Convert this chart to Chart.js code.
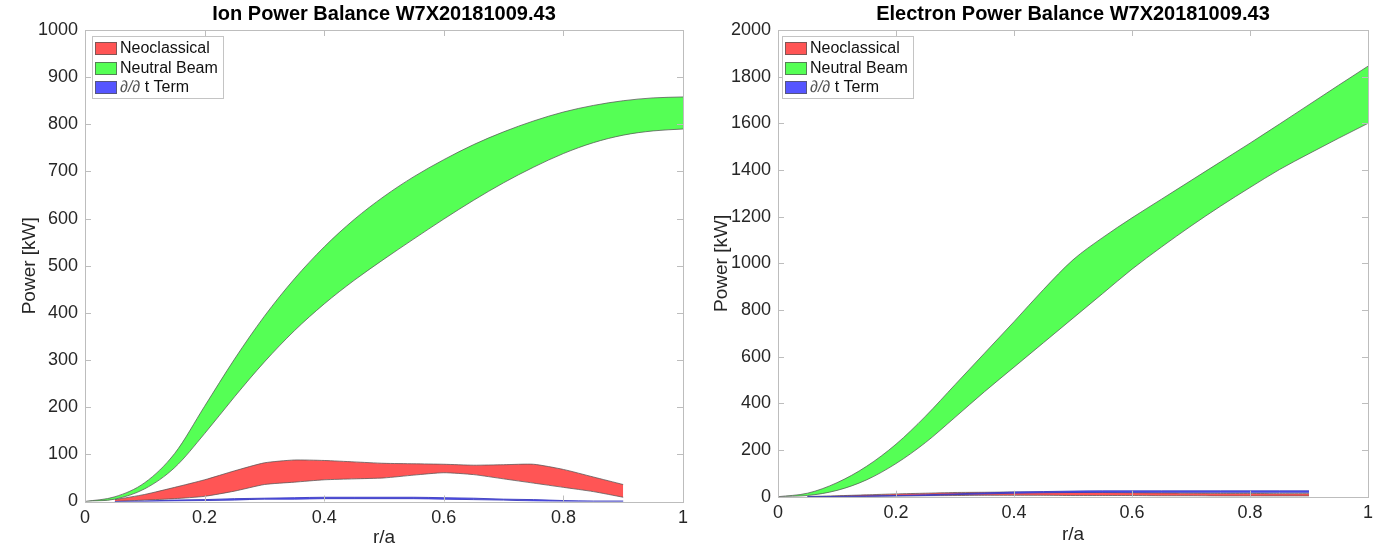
<!DOCTYPE html>
<html>
<head>
<meta charset="utf-8">
<script src="https://cdn.jsdelivr.net/npm/chart.js@4.4.1/dist/chart.umd.min.js"></script>
<style>
    html, body { margin: 0; padding: 0; background: #fff; }
    #wrap { position: relative; width: 1385px; height: 549px; }
    .pane { position: absolute; top: 0; height: 549px; }
</style>
</head>
<body>
<div id="wrap">
    <div class="pane" style="left:0;width:695px"><canvas id="ionChart" width="695" height="549"></canvas></div>
    <div class="pane" style="left:695px;width:690px"><canvas id="elecChart" width="690" height="549"></canvas></div>
</div>
<script>
// r/a grids
const rBeam = [0, 0.05, 0.1, 0.15, 0.2, 0.25, 0.3, 0.35, 0.4, 0.45, 0.5, 0.55, 0.6, 0.65, 0.7, 0.75, 0.8, 0.85, 0.9, 0.95, 1.0];
const rInner = [0.05, 0.1, 0.15, 0.2, 0.25, 0.3, 0.35, 0.4, 0.45, 0.5, 0.55, 0.6, 0.65, 0.7, 0.75, 0.8, 0.85, 0.9];

// Ion power balance [kW]
const ionBeamUpper = [0, 10, 40, 102, 202, 302, 393, 472, 540, 598, 647, 689, 725, 757, 784, 807, 826, 840, 850, 856, 858];
const ionBeamLower = [0, 5, 27, 72, 144, 222, 296, 362, 419, 469, 514, 557, 599, 639, 676, 709, 738, 761, 777, 786, 790];
const ionNeoUpper = [4, 15, 30, 46, 65, 82, 88, 87, 84, 81, 80, 79, 77, 78, 79, 68, 52, 36];
const ionNeoLower = [0, 3, 6, 11, 22, 36, 41, 46, 48, 50, 56, 61, 57, 48, 39, 30, 21, 9];
const ionDtUpper = [0, 1, 3, 4, 6, 7, 8, 9, 9, 9, 9, 8, 7, 5, 4, 2, 1, 1];
const ionDtLower = [0, 0, 1, 2, 3, 5, 5, 6, 6, 6, 6, 5, 4, 3, 1, 0, 0, 0];

// Electron power balance [kW]
const elecBeamUpper = [0, 15, 60, 130, 225, 345, 480, 615, 750, 888, 1015, 1110, 1195, 1275, 1355, 1435, 1515, 1597, 1680, 1763, 1845];
const elecBeamLower = [0, 5, 27, 72, 142, 232, 340, 450, 555, 660, 765, 870, 975, 1070, 1160, 1245, 1325, 1402, 1470, 1536, 1600];
const elecNeoUpper = [1, 4, 8, 12, 15, 18, 19, 20, 19, 19, 18, 17, 16, 15, 14, 14, 13, 13];
const elecNeoLower = [0, 1, 2, 3, 4, 5, 6, 6, 6, 5, 5, 5, 4, 4, 3, 3, 3, 3];
const elecDtUpper = [0, 1, 3, 5, 8, 12, 16, 20, 22, 24, 25, 25, 25, 25, 25, 25, 25, 25];
const elecDtLower = [0, 0, 1, 3, 5, 9, 12, 15, 17, 18, 19, 19, 19, 19, 19, 19, 19, 19];

// Legend
const legendLabels = ['Neoclassical', 'Neutral Beam', 't Term'];
const legendColors = ['#ff5555', '#55ff55', '#5555ff'];

const EDGE = 'rgba(85,85,85,0.75)';
const FONT = '"Liberation Sans", Arial, Helvetica, sans-serif';

function pts(xs, ys) {
    return xs.map((x, i) => ({ x: x, y: ys[i] }));
}

// lower edge then upper edge filled down to it
function band(xs, lo, hi, color, edge, order, lowerIndex, smooth) {
    const common = { borderColor: edge, borderWidth: 1, pointRadius: 0, order: order };
    if (smooth) common.cubicInterpolationMode = 'monotone';
    else common.tension = 0.2;
    return [
        Object.assign({ data: pts(xs, lo), fill: false }, common),
        Object.assign({ data: pts(xs, hi), fill: lowerIndex, backgroundColor: color }, common)
    ];
}

// title centred over the plot box (MATLAB style)
const areaTitle = {
    id: 'areaTitle',
    afterDraw(chart, args, opts) {
        const { ctx, chartArea: a } = chart;
        ctx.save();
        ctx.font = 'bold 20px ' + FONT;
        ctx.fillStyle = '#000';
        ctx.textAlign = 'center';
        ctx.textBaseline = 'middle';
        ctx.fillText(opts.text, (a.left + a.right) / 2, 14);
        ctx.restore();
    }
};

// box with inward ticks, like MATLAB axes
const boxTicks = {
    id: 'boxTicks',
    afterDatasetsDraw(chart) {
        const { ctx, chartArea: a, scales: { x, y } } = chart;
        ctx.save();
        ctx.strokeStyle = '#bdbdbd';
        ctx.lineWidth = 1;
        ctx.strokeRect(Math.round(a.left) + 0.5, Math.round(a.top) + 0.5, Math.round(a.width), Math.round(a.height));
        ctx.beginPath();
        x.ticks.forEach(t => {
            const px = Math.round(x.getPixelForValue(t.value)) + 0.5;
            ctx.moveTo(px, a.bottom); ctx.lineTo(px, a.bottom - 6);
            ctx.moveTo(px, a.top); ctx.lineTo(px, a.top + 6);
        });
        y.ticks.forEach(t => {
            const py = Math.round(y.getPixelForValue(t.value)) + 0.5;
            ctx.moveTo(a.left, py); ctx.lineTo(a.left + 6, py);
            ctx.moveTo(a.right, py); ctx.lineTo(a.right - 6, py);
        });
        ctx.stroke();
        ctx.restore();
    }
};

// legend box drawn inside the plot area
const insideLegend = {
    id: 'insideLegend',
    afterDraw(chart, args, opts) {
        const { ctx, chartArea } = chart;
        const x = Math.round(chartArea.left + opts.dx), y = Math.round(chartArea.top + opts.dy);
        ctx.save();
        ctx.fillStyle = '#fff';
        ctx.fillRect(x, y, 131, 62);
        ctx.strokeStyle = '#c4c4c4';
        ctx.strokeRect(x + 0.5, y + 0.5, 131, 62);
        ctx.textBaseline = 'middle';
        legendLabels.forEach((lab, i) => {
            const ry = Math.round(y + 6 + i * 19.7);
            ctx.fillStyle = legendColors[i];
            ctx.fillRect(x + 3, ry, 22, 13);
            ctx.strokeStyle = EDGE;
            ctx.strokeRect(x + 3.5, ry + 0.5, 21, 12);
            let tx = x + 28;
            if (i === 2) {
                ctx.font = 'italic 16px ' + FONT;
                ctx.fillStyle = '#555';
                ctx.fillText('\u2202/\u2202', tx, ry + 7);
                tx += ctx.measureText('\u2202/\u2202').width;
            }
            ctx.font = '16px ' + FONT;
            ctx.fillStyle = '#111';
            ctx.fillText(i === 2 ? ' ' + lab : lab, tx, ry + 7);
        });
        ctx.restore();
    }
};

function makeChart(id, cfg) {
    const datasets = [
        ...band(rInner, cfg.neoLo, cfg.neoHi, '#ff5555', EDGE, 3, 0, false),
        ...band(rBeam, cfg.beamLo, cfg.beamHi, '#55ff55', EDGE, 2, 2, true),
        ...band(rInner, cfg.dtLo, cfg.dtHi, '#5555ff', 'rgba(60,60,190,0.9)', 1, 4, true)
    ];
    return new Chart(document.getElementById(id), {
        type: 'line',
        data: { datasets: datasets },
        options: {
            responsive: false,
            animation: false,
            layout: { padding: { left: cfg.padLeft, right: cfg.padRight, top: 30, bottom: 0 } },
            plugins: {
                legend: { display: false },
                tooltip: { enabled: false },
                title: { display: false },
                areaTitle: { text: cfg.title },
                insideLegend: { dx: cfg.legendDx, dy: 6 }
            },
            scales: {
                x: {
                    type: 'linear',
                    min: 0,
                    max: 1,
                    grid: { display: false, drawTicks: false },
                    border: { display: false },
                    ticks: {
                        stepSize: 0.2,
                        padding: 6,
                        color: '#262626',
                        font: { family: FONT, size: 18 },
                        callback: v => String(Math.round(v * 10) / 10)
                    },
                    title: {
                        display: true,
                        text: 'r/a',
                        color: '#262626',
                        font: { family: FONT, size: 19 },
                        padding: { top: 0, bottom: cfg.xTitlePad }
                    },
                    afterFit: s => { s.height = cfg.xHeight; }
                },
                y: {
                    min: 0,
                    max: cfg.yMax,
                    grid: { display: false, drawTicks: false },
                    border: { display: false },
                    ticks: {
                        stepSize: cfg.yStep,
                        padding: 7,
                        color: '#262626',
                        font: { family: FONT, size: 18 },
                        callback: v => String(v)
                    },
                    title: {
                        display: true,
                        text: 'Power [kW]',
                        color: '#262626',
                        font: { family: FONT, size: 19 },
                        padding: 0
                    },
                    afterFit: s => { s.width = cfg.yWidth; }
                }
            }
        },
        plugins: [areaTitle, boxTicks, insideLegend]
    });
}

makeChart('ionChart', {
    title: 'Ion Power Balance W7X20181009.43',
    beamLo: ionBeamLower, beamHi: ionBeamUpper,
    neoLo: ionNeoLower, neoHi: ionNeoUpper,
    dtLo: ionDtLower, dtHi: ionDtUpper,
    yMax: 1000, yStep: 100,
    padLeft: 18.6, padRight: 12, yWidth: 66.4,
    xHeight: 47.5, xTitlePad: 0, legendDx: 7
});

makeChart('elecChart', {
    title: 'Electron Power Balance W7X20181009.43',
    beamLo: elecBeamLower, beamHi: elecBeamUpper,
    neoLo: elecNeoLower, neoHi: elecNeoUpper,
    dtLo: elecDtLower, dtHi: elecDtUpper,
    yMax: 2000, yStep: 200,
    padLeft: 15.6, padRight: 17, yWidth: 67.4,
    xHeight: 52.3, xTitlePad: 2.6, legendDx: 4
});
</script>
</body>
</html>
